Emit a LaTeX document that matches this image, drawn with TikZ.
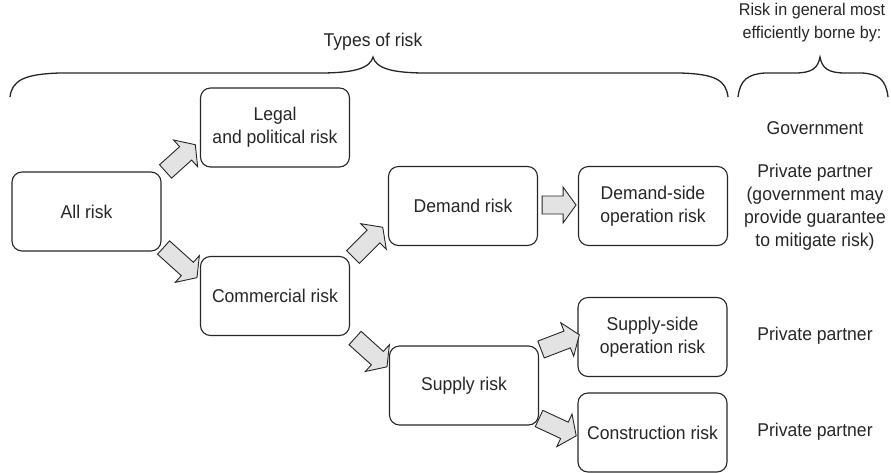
\documentclass[tikz,border=0pt]{standalone}
\usepackage{fontspec}
\setmainfont{Liberation Sans}[FakeStretch=0.95]
\usetikzlibrary{calc}
\definecolor{ink}{HTML}{262626}
\definecolor{afill}{HTML}{E3E3E3}
\tikzset{
  riskbox/.style={draw=ink, line width=1.1pt, rounded corners=10pt, minimum width=149pt, minimum height=79pt, align=center, text=ink, font=\fontsize{18.5}{23}\selectfont, inner sep=0pt},
  lbl/.style={align=center, text=ink, font=\fontsize{18.5}{23}\selectfont, inner sep=0pt},
  barrowline/.style={draw=ink, fill=afill, line width=0.9pt, line join=miter},
  bracel/.style={draw=ink, line width=1.3pt}
}
\newcommand\blockarrow[3]{%
  \draw[barrowline, shift={(#1)}, rotate=#2] (0,9) -- ({#3-13},9) -- ({#3-13},18) -- (#3,0) -- ({#3-13},-18) -- ({#3-13},-9) -- (0,-9) -- cycle;}
\begin{document}
\begin{tikzpicture}[x=1pt, y=-1pt]
\useasboundingbox (0,0) rectangle (891,472);
% boxes
\node[riskbox] (allrisk) at (86.5,211.5) {All risk};
\node[riskbox] (legal) at (275,127.5) {Legal\\and political risk};
\node[riskbox] (commercial) at (275,296) {Commercial risk};
\node[riskbox] (demand) at (463,206) {Demand risk};
\node[riskbox] (demandside) at (653,206) {Demand-side\\operation risk};
\node[riskbox] (supply) at (464,385.5) {Supply risk};
\node[riskbox] (supplyside) at (652.5,337) {Supply-side\\operation risk};
\node[riskbox] (construction) at (652.5,432.5) {Construction risk};
% arrow tails
\coordinate (t1) at ($(allrisk.north east)+(4,0)$);
\coordinate (t2) at ($(allrisk.south east)+(2,-4)$);
\coordinate (t3) at ($(commercial.north east)+(3,1)$);
\coordinate (t4) at ($(commercial.south east)+(5,2)$);
\coordinate (t5) at ($(demand.east)+(4,-1)$);
\coordinate (t6) at ($(supply.east)+(2,-36)$);
\coordinate (t7) at ($(supply.east)+(0,33)$);
\blockarrow{t1}{42}{40}
\blockarrow{t2}{-42}{45}
\blockarrow{t3}{45}{42}
\blockarrow{t4}{-42}{43}
\blockarrow{t5}{0}{34}
\blockarrow{t6}{21}{41}
\blockarrow{t7}{-25}{41}
% braces
\draw[bracel] (10,97) .. controls (12,80) and (25,74) .. (60,73) -- (320,73) .. controls (355,73) and (370,68) .. (373,57) .. controls (376,68) and (391,73) .. (426,73) -- (680,73) .. controls (715,74) and (726,80) .. (728,97);
\draw[bracel] (738,97) .. controls (740,80) and (748,74) .. (765,73) -- (795,73) .. controls (812,73) and (818,68) .. (820,57) .. controls (822,68) and (828,73) .. (845,73) -- (862,73) .. controls (879,74) and (886,80) .. (888,97);
% labels
\node[lbl] (types) at (373,42) {Types of risk};
\node[lbl, anchor=north, font=\fontsize{17}{23}\selectfont] (borne) at (812,3) {Risk in general most\\efficiently borne by:};
\node[lbl] (gov) at (815,128) {Government};
\node[lbl] (pp1) at (815,207) {Private partner\\(government may\\provide guarantee\\to mitigate risk)};
\node[lbl] (pp2) at (815,336) {Private partner};
\node[lbl] (pp3) at (815,432) {Private partner};
\end{tikzpicture}
\end{document}
